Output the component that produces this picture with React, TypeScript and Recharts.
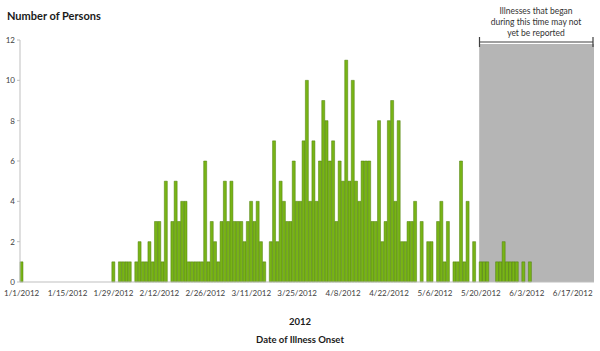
import { BarChart, Bar, XAxis, YAxis, ReferenceArea } from 'recharts'

// daily case counts by date of illness onset, 1/1/2012 .. 6/23/2012
const cases = [
  // 1/1 - 1/14
  1, 0, 0, 0, 0, 0, 0, 0, 0, 0, 0, 0, 0, 0,
  // 1/15 - 1/28
  0, 0, 0, 0, 0, 0, 0, 0, 0, 0, 0, 0, 0, 0,
  // 1/29 - 2/11
  1, 0, 1, 1, 1, 1, 0, 1, 2, 1, 1, 2, 1, 3,
  // 2/12 - 2/25
  3, 1, 5, 0, 3, 5, 3, 4, 4, 1, 1, 1, 1, 1,
  // 2/26 - 3/10
  6, 1, 3, 2, 1, 3, 5, 3, 5, 3, 3, 3, 2, 3,
  // 3/11 - 3/24
  4, 3, 4, 2, 1, 0, 2, 7, 2, 5, 4, 3, 3, 6,
  // 3/25 - 4/7
  4, 4, 7, 10, 4, 7, 4, 6, 9, 8, 6, 7, 3, 6,
  // 4/8 - 4/21
  5, 11, 5, 10, 5, 4, 6, 6, 6, 3, 3, 8, 2, 3,
  // 4/22 - 5/5
  8, 9, 4, 8, 2, 2, 3, 3, 4, 0, 3, 0, 2, 2,
  // 5/6 - 5/19
  0, 3, 4, 1, 3, 0, 1, 1, 6, 1, 4, 0, 2, 0,
  // 5/20 - 6/2
  1, 1, 1, 0, 0, 1, 1, 2, 1, 1, 1, 1, 0, 1,
  // 6/3 - 6/16
  0, 1, 0, 0, 0, 0, 0, 0, 0, 0, 0, 0, 0, 0,
  // 6/17 - 6/23
  0, 0, 0, 0, 0, 0, 0
]

const yTicks = [0, 2, 4, 6, 8, 10, 12]
const notReportedFrom = '5/20/2012'
const notReportedTo = '6/23/2012'
const noteLines = ['Illnesses that began', 'during this time may not', 'yet be reported']

const dayLabel = (i: number) => {
  const d = new Date(2012, 0, 1 + i)
  return `${d.getMonth() + 1}/${d.getDate()}/2012`
}

const data = cases.map((count, i) => ({ date: dayLabel(i), count }))

const font = 'Lato, "DejaVu Sans", sans-serif'

export default function App() {
  return (
    <div
      style={{
        position: 'absolute',
        left: 0,
        top: 0,
        width: 600,
        height: 351,
        background: '#fff',
        fontFamily: font
      }}
    >
      <BarChart
        width={600}
        height={351}
        data={data}
        margin={{ top: 40, right: 6, bottom: 39, left: 0 }}
        barCategoryGap={0}
      >
        <XAxis
          dataKey="date"
          interval={13}
          tickLine={false}
          axisLine={{ stroke: '#bfbfbf' }}
          tick={{ fontSize: 8, fill: '#404040', fontFamily: font }}
          height={30}
        />
        <YAxis
          width={20}
          domain={[0, 12]}
          ticks={yTicks}
          tickSize={3}
          tickMargin={2}
          axisLine={{ stroke: '#bfbfbf' }}
          tickLine={{ stroke: '#bfbfbf' }}
          tick={{ fontSize: 8, fill: '#404040', fontFamily: font }}
        />
        <Bar
          dataKey="count"
          fill="#78b416"
          stroke="#4d7c0a"
          strokeWidth={0.5}
          isAnimationActive={false}
        />
        <ReferenceArea
          x1={notReportedFrom}
          x2={notReportedTo}
          y1={0}
          y2={11.8}
          fill="#737373"
          fillOpacity={0.53}
          stroke="none"
        />
      </BarChart>

      <div
        style={{
          position: 'absolute',
          left: 7,
          top: 9,
          fontSize: 11,
          fontWeight: 700,
          color: '#1a1a1a',
          lineHeight: '14px',
          whiteSpace: 'nowrap'
        }}
      >
        Number of Persons
      </div>

      <div
        style={{
          position: 'absolute',
          left: 476,
          width: 120,
          top: 6,
          textAlign: 'center',
          fontSize: 8.5,
          lineHeight: '11px',
          color: '#333'
        }}
      >
        {noteLines.map((t) => (
          <div key={t}>{t}</div>
        ))}
      </div>

      <svg
        width={600}
        height={351}
        style={{ position: 'absolute', left: 0, top: 0, pointerEvents: 'none' }}
      >
        <path
          d="M479.5,37 V47 M479.5,42 H593 M593,37 V47"
          stroke="#404040"
          strokeWidth={1.2}
          fill="none"
        />
      </svg>

      <div
        style={{
          position: 'absolute',
          left: 0,
          width: 600,
          top: 316,
          textAlign: 'center',
          fontSize: 9.5,
          fontWeight: 700,
          color: '#1a1a1a',
          lineHeight: '12px'
        }}
      >
        2012
      </div>
      <div
        style={{
          position: 'absolute',
          left: 0,
          width: 600,
          top: 334,
          textAlign: 'center',
          fontSize: 9.5,
          fontWeight: 700,
          color: '#1a1a1a',
          lineHeight: '12px'
        }}
      >
        Date of Illness Onset
      </div>
    </div>
  )
}
